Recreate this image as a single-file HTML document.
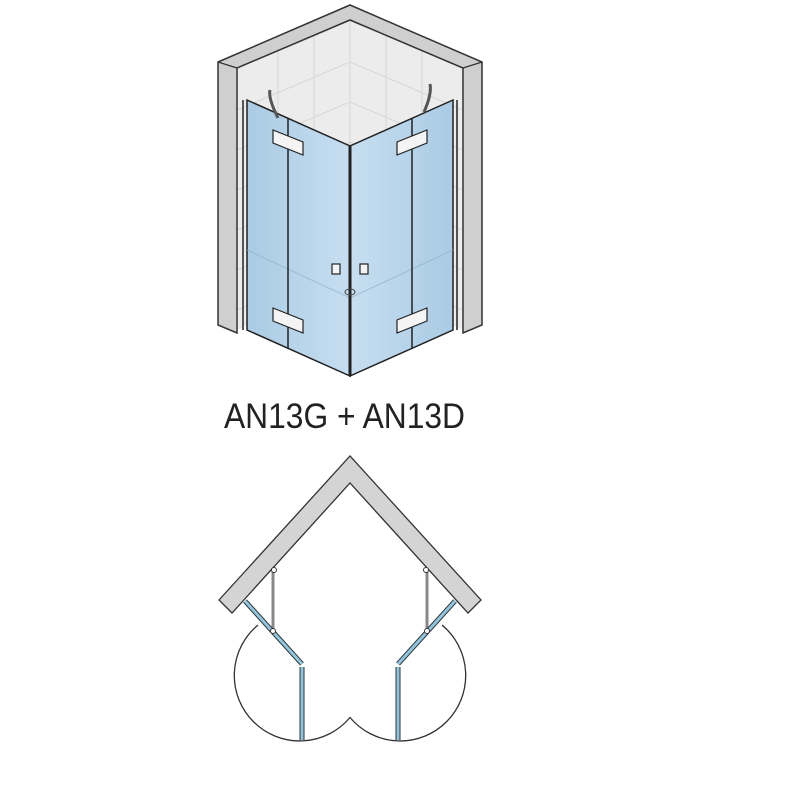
<!DOCTYPE html>
<html><head><meta charset="utf-8"><style>html,body{margin:0;padding:0;background:#fff}svg{display:block}</style></head>
<body>
<svg width="800" height="800" viewBox="0 0 800 800" xmlns="http://www.w3.org/2000/svg">
<defs>
<linearGradient id="gl" x1="0" y1="0" x2="1" y2="0"><stop offset="0" stop-color="#a9cbe4"/><stop offset="1" stop-color="#c7def0"/></linearGradient>
<linearGradient id="gr" x1="0" y1="0" x2="1" y2="0"><stop offset="0" stop-color="#c7def0"/><stop offset="1" stop-color="#a9cbe4"/></linearGradient>
</defs>
<polygon points="237,68 350,20 463,68 463,330 350,280 237,330" fill="#ececec"/>
<g stroke="#d6d6d6" stroke-width="1" fill="none">
<line x1="350" y1="20" x2="350" y2="280"/>
<line x1="278" y1="50" x2="278" y2="310"/><line x1="314" y1="35" x2="314" y2="295"/>
<line x1="422" y1="50" x2="422" y2="310"/><line x1="386" y1="35" x2="386" y2="295"/>
<path d="M237,110 L350,62 L463,110 M237,150 L350,102 L463,150 M237,190 L350,142 L463,190 M237,230 L350,182 L463,230 M237,270 L350,222 L463,270 M237,310 L350,262 L463,310"/>
</g>
<polygon points="218,62 350,5 482,62 482,325 463,333 463,68 350,20 237,68 237,333 218,325" fill="#cfcfcf" stroke="#333" stroke-width="1.5"/>
<line x1="218" y1="62" x2="237" y2="68" stroke="#333" stroke-width="1.2"/>
<line x1="482" y1="62" x2="463" y2="68" stroke="#333" stroke-width="1.2"/>
<polygon points="247,100 350,146 350,376 247,330" fill="url(#gl)" stroke="#222" stroke-width="1.5"/>
<polygon points="453,100 350,146 350,376 453,330" fill="url(#gr)" stroke="#222" stroke-width="1.5"/>
<g stroke="#8fb0c8" stroke-width="1" fill="none" opacity="0.7">
<path d="M247,250 L350,298 L453,250"/>
</g>
<line x1="288" y1="118" x2="288" y2="348" stroke="#222" stroke-width="1.5"/>
<line x1="412" y1="118" x2="412" y2="348" stroke="#222" stroke-width="1.5"/>
<line x1="350" y1="146" x2="350" y2="376" stroke="#222" stroke-width="3"/>
<line x1="243" y1="100" x2="243" y2="330" stroke="#555" stroke-width="2"/>
<line x1="457" y1="100" x2="457" y2="330" stroke="#555" stroke-width="2"/>
<path d="M270,90 Q268,98 278,118" stroke="#555" stroke-width="3" fill="none"/>
<path d="M430,84 Q432,94 424,112" stroke="#555" stroke-width="3" fill="none"/>
<g fill="#f4f4f4" stroke="#222" stroke-width="1.2">
<polygon points="273,130 303,142 303,155 273,143"/>
<polygon points="273,308 303,320 303,333 273,321"/>
<polygon points="427,130 397,142 397,155 427,143"/>
<polygon points="427,308 397,320 397,333 427,321"/>
<rect x="332" y="264" width="8" height="10"/><rect x="360" y="264" width="8" height="10"/>
</g>
<ellipse cx="350" cy="292" rx="5" ry="3" fill="none" stroke="#444"/>
<text x="224" y="428" font-family="Liberation Sans, sans-serif" font-size="35" fill="#222" textLength="241" lengthAdjust="spacingAndGlyphs">AN13G + AN13D</text>
<path d="M258,625 A65.5,65.5 0 1 0 350,717.5 A65.5,65.5 0 1 0 442,625" fill="none" stroke="#333" stroke-width="1.3"/>
<polygon points="219,600 350,456 481,600 468,613 350,483 232,613" fill="#d4d4d4" stroke="#333" stroke-width="1.3"/>
<line x1="273" y1="570" x2="273" y2="630" stroke="#888" stroke-width="3"/>
<line x1="427" y1="570" x2="427" y2="630" stroke="#888" stroke-width="3"/>
<g stroke="#333" stroke-width="5"><path d="M245,601 L302,664 M302,667 L302,740 M455,601 L398,664 M398,667 L398,740" fill="none"/></g>
<g stroke="#8ec6e0" stroke-width="3"><path d="M245,601 L302,664 M302,667 L302,740 M455,601 L398,664 M398,667 L398,740" fill="none"/></g>
<circle cx="273" cy="631" r="2.5" fill="#fff" stroke="#333"/><circle cx="427" cy="631" r="2.5" fill="#fff" stroke="#333"/>
<circle cx="274" cy="570" r="2.5" fill="#fff" stroke="#333"/><circle cx="426" cy="570" r="2.5" fill="#fff" stroke="#333"/>
</svg>
</body></html>
